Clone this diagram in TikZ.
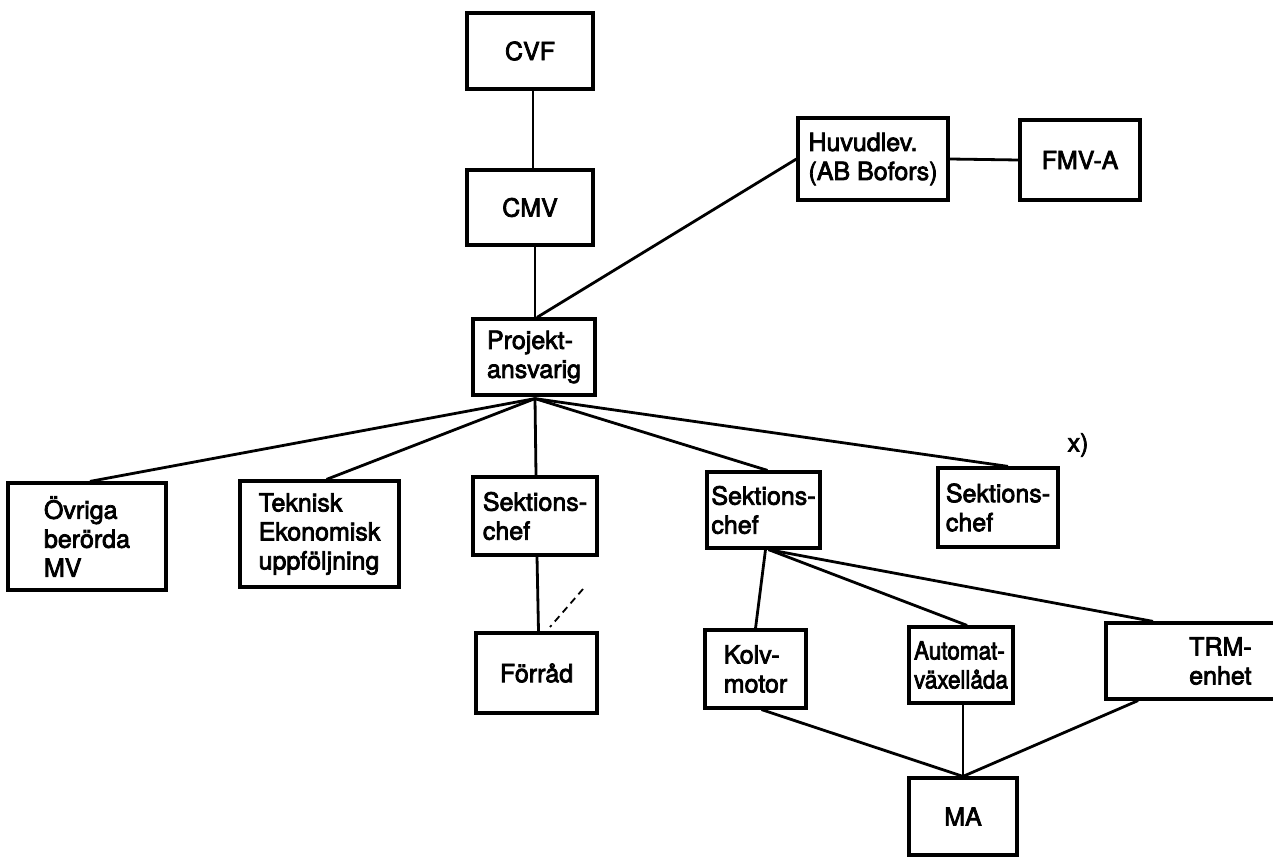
\documentclass[tikz,border=0pt]{standalone}
\usepackage{fontspec}
\setmainfont[FakeBold=3]{TeX Gyre Heros}
\usetikzlibrary{calc}
\newcommand{\narrow}[1]{\scalebox{0.9}[1]{#1}}
\begin{document}
\begin{tikzpicture}[x=1pt,y=-1pt,
  lbl/.style={font=\fontsize{25}{29}\selectfont},
  box/.style={draw, line width=3.2pt, inner sep=0pt, align=left, lbl},
  conn/.style={line width=2.8pt},
  dconn/.style={line width=1.8pt, dash pattern=on 7pt off 5pt}]
\useasboundingbox (0,0) rectangle (1273,858);
\clip (0,0) rectangle (1273,858);
\node[box, minimum width=126pt, minimum height=76pt] (cvf) at (530,51) {CVF};
\node[box, minimum width=126pt, minimum height=75pt] (cmv) at (530,207.5) {CMV};
\node[box, minimum width=122pt, minimum height=76pt] (proj) at (534,357) {Projekt-\\ansvarig};
\node[box, minimum width=150pt, minimum height=82pt] (hl) at (873,159) {Huvudlev.\\(AB Bofors)};
\node[box, minimum width=120pt, minimum height=80pt] (fmv) at (1080,160) {FMV-A};
\node[box, minimum width=158pt, minimum height=107pt] (ovr) at (87,536.5) {Övriga\\berörda\\MV\hspace*{12pt}};
\node[box, minimum width=159pt, minimum height=106pt] (tek) at (319.5,534) {Teknisk\\Ekonomisk\\uppföljning};
\node[box, minimum width=124pt, minimum height=78pt] (sek1) at (535,516) {Sektions-\\chef};
\node[box, minimum width=121pt, minimum height=80pt] (forr) at (536.5,673) {Förråd};
\node[box, minimum width=113pt, minimum height=76pt] (sek2) at (763.5,510) {Sektions-\\chef};
\node[box, minimum width=120pt, minimum height=79pt] (sek3) at (998,507.5) {Sektions-\\chef};
\node[lbl, inner sep=0pt] (xmark) at (1078,445) {x)};
\node[box, minimum width=101pt, minimum height=78pt] (kolv) at (755.5,669) {Kolv-\\motor};
\node[box, minimum width=104pt, minimum height=76pt] (auto) at (961,665) {\narrow{Automat-}\\\narrow{växellåda}};
\node[box, minimum width=184pt, minimum height=76pt] (trm) at (1198,661) {};
\node[lbl, inner sep=0pt, align=left, anchor=west] (trmt) at (1189,661) {TRM-\\enhet};
\node[box, minimum width=108pt, minimum height=77pt] (ma) at (963,816.5) {MA};
% connectors
\draw[conn] ($(cvf.south)+(3,0)$) -- ($(cmv.north)+(3,0)$);
\draw[conn] ($(cmv.south)+(5,0)$) -- ($(proj.north)+(1,0)$);
\draw[conn] ($(proj.north)+(3,0)$) -- (hl.west);
\draw[conn] (hl.east) -- (fmv.west);
\coordinate (ps) at ($(proj.south)+(1,2)$);
\draw[conn] (ps) -- ($(ovr.north)+(3,0)$);
\draw[conn] (ps) -- ($(tek.north)+(7,0)$);
\draw[conn] (ps) -- ($(sek1.north)+(1,0)$);
\draw[conn] (ps) -- ($(sek2.north)+(4,0)$);
\draw[conn] (ps) -- ($(sek3.north)+(10,0)$);
\draw[conn] ($(sek1.south)+(2,0)$) -- ($(forr.north)+(2,0)$);
\coordinate (d1) at (583,589);
\coordinate (d2) at (550,627);
\draw[dconn] (d1) -- (d2);
\coordinate (s2) at ($(sek2.south)+(5,0)$);
\draw[conn] ($(sek2.south)+(2,0)$) -- (kolv.north);
\draw[conn] (s2) -- ($(auto.north)+(6,0)$);
\draw[conn] (s2) -- ($(trm.north)+(-45,0)$);
\draw[conn] ($(kolv.south)+(6,0)$) -- (ma.north);
\draw[conn] ($(auto.south)+(2,0)$) -- (ma.north);
\draw[conn] ($(trm.south)+(-60,0)$) -- (ma.north);
\end{tikzpicture}
\end{document}
